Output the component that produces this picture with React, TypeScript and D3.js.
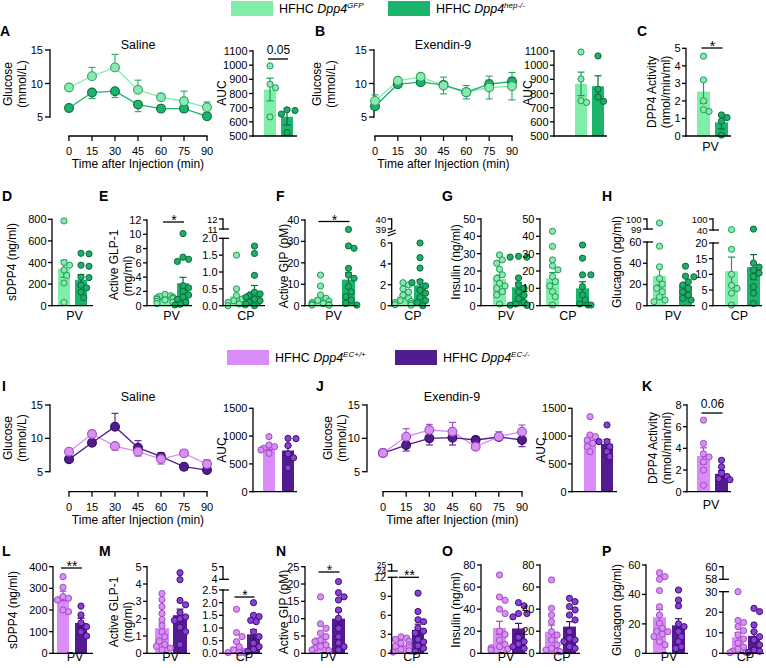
import React from "react";
import * as d3 from "d3";

const FONT = "'Liberation Sans', Arial, Helvetica, sans-serif";

// ================= DATA =================
const minutes = [0, 15, 30, 45, 60, 75, 90];
const ticksGlucose = [5, 10, 15];

// A – Saline (Dpp4 GFP vs hep-/-)
const salGfpMean = [9.4, 11.1, 12.4, 9.05, 7.95, 7.35, 6.45];
const salGfpSem = [0.25, 1.3, 1.95, 1.45, 0.45, 1.5, 0.8];
const salHepMean = [6.35, 8.65, 8.85, 6.85, 6.25, 6.25, 5.1];
const salHepSem = [0.55, 0.9, 0.95, 1.05, 0.25, 0.2, 0.2];
const salAucGfp = [995, 865, 840, 635];
const salAucHep = [685, 680, 655, 525];
const salAucMean = [828, 636];
const salAucSem = [80, 58];

// B – Exendin-9
const exGfpMean = [7.4, 10.4, 11.0, 9.7, 8.7, 9.4, 9.6];
const exGfpSem = [0.9, 0.3, 0.35, 1.25, 1.0, 1.7, 2.05];
const exHepMean = [6.6, 9.9, 10.2, 9.8, 8.7, 9.9, 10.3];
const exHepSem = [0.3, 0.3, 0.3, 0.4, 0.5, 0.6, 0.6];
const exAucGfp = [1093, 903, 749, 737];
const exAucHep = [1065, 830, 775, 745];
const exAucMean = [868, 851];
const exAucSem = [83, 74];

// C – DPP4 activity
const actGfp = [4.55, 3.2, 2.0, 1.5, 1.4];
const actHep = [1.2, 1.05, 0.85, 0.05];
const actMean = [2.53, 0.78];
const actSem = [0.66, 0.38];

// D – sDPP4
const sdppGfp = [785, 400, 375, 330, 280, 210, 30];
const sdppHep = [485, 480, 375, 365, 265, 260, 190, 165, 125, 75];
const sdppMean = [342, 240];
const sdppSem = [78, 48];

// E – Active GLP-1
const glpPvGfp = [1.6, 1.4, 1.3, 1.2, 1.1, 1.0, 0.9, 0.8, 0.6, 0.5, 0.3];
const glpPvHep = [10.1, 6.8, 6.5, 6.2, 2.8, 2.5, 2.0, 1.5, 1.2, 0.9, 0.5, 0.2, 0.1];
const glpPvMean = [0.95, 3.15];
const glpPvSem = [0.12, 0.82];
const glpCpGfp = [1.5, 0.5, 0.3, 0.2, 0.15, 0.1, 0.05, 0.02, 0.0];
const glpCpHep = [1.77, 1.55, 0.9, 0.4, 0.35, 0.3, 0.25, 0.2, 0.15, 0.1, 0.05, 0.0];
const glpCpMean = [0.28, 0.43];
const glpCpSem = [0.2, 0.17];

// F – Active GIP
const gipPvGfp = [14.3, 9.2, 5.0, 3.5, 2.5, 2.0, 1.5, 1.0, 0.8, 0.5, 0.3, 0.2];
const gipPvHep = [35.6, 27.9, 26.8, 17.4, 14.3, 12.8, 8.9, 6.5, 4.2, 2.6, 1.1, 0.3];
const gipPvMean = [3.8, 12.2];
const gipPvSem = [1.2, 3.2];
const gipCpGfp = [2.2, 2.0, 1.6, 1.3, 1.0, 0.7, 0.5, 0.4, 0.3, 0.2, 0.1, 0.05];
const gipCpHep = [6.0, 4.6, 3.6, 2.3, 2.2, 1.9, 1.5, 1.2, 0.8, 0.5, 0.3, 0.0];
const gipCpMean = [0.9, 1.95];
const gipCpSem = [0.2, 0.5];

// G – Insulin
const insPvGfp = [29.3, 26.4, 24.5, 21, 17.8, 15.8, 12.9, 11.4, 10, 8.1, 6.2, 1];
const insPvHep = [28, 28, 28.5, 16, 12, 10, 8, 6, 4, 2, 1, 0.5, 0.3, 0.2];
const insPvMean = [15.4, 10.6];
const insPvSem = [2.3, 2.9];
const insCpGfp = [42.9, 34.2, 26.4, 23, 20.7, 16.8, 13.9, 11.4, 8.1, 5.2, 0.4];
const insCpHep = [35, 27.4, 17.8, 17.8, 11, 6.2, 3.3, 1, 0.4, 0.4];
const insCpMean = [15.8, 10.0];
const insCpSem = [3.3, 3.8];

// H – Glucagon
const gcgPvGfp = [99.6, 56, 36.6, 25.6, 20.3, 16.3, 13.1, 8.4, 5.3, 3.8];
const gcgPvHep = [37.2, 27.8, 27.2, 22.5, 19.4, 16.3, 13.1, 10, 6.9, 5.3];
const gcgPvMean = [28, 18.8];
const gcgPvSem = [8.7, 3.2];
const gcgCpGfp = [42, 18, 10, 6.5, 5.5, 4, 0.2];
const gcgCpHep = [45, 13.6, 12.3, 11.4, 10.4, 9.3, 6.1, 4, 0.7];
const gcgCpMean = [11, 12.3];
const gcgCpSem = [4.5, 4];

// I – Saline (Dpp4 EC+/+ vs EC-/-)
const salWtMean = [8.0, 10.65, 8.85, 8.0, 6.9, 7.75, 6.15];
const salWtSem = [0.15, 0.3, 0.6, 0.65, 0.75, 0.3, 0.6];
const salKoMean = [6.85, 9.35, 11.75, 8.6, 7.25, 5.75, 5.25];
const salKoSem = [0.2, 0.3, 2.0, 1.05, 0.6, 0.5, 0.2];
const salAucWt = [990, 840, 810, 780, 750, 690];
const salAucKo = [960, 955, 830, 680, 610, 430];
const salAucWtKoMean = [800, 740];
const salAucWtKoSem = [45, 85];

// J – Exendin-9
const exWtMean = [7.8, 10.25, 11.25, 11.0, 8.75, 10.25, 11.0];
const exWtSem = [0.2, 1.2, 0.85, 1.4, 0.4, 0.75, 1.0];
const exKoMean = [7.8, 9.0, 10.0, 10.1, 9.75, 10.2, 9.75];
const exKoSem = [0.2, 0.9, 1.0, 1.1, 0.5, 0.4, 1.0];
const exAucWt = [1350, 1020, 990, 930, 870, 810, 720];
const exAucKo = [1200, 900, 900, 810, 720, 630];
const exAucWtKoMean = [960, 860];
const exAucWtKoSem = [65, 80];

// K – DPP4 activity
const actWt = [6.6, 4.45, 3.5, 3.2, 2.75, 2.0, 0.6];
const actKo = [2.9, 2.3, 1.7, 1.4, 1.2, 1.1];
const actWtKoMean = [3.3, 1.65];
const actWtKoSem = [0.75, 0.3];

// L – sDPP4
const sdppWt = [354, 305, 262, 254, 246, 200, 192];
const sdppKo = [218, 177, 141, 123, 100, 80];
const sdppWtKoMean = [265, 140];
const sdppWtKoSem = [22, 22];

// M – Active GLP-1
const glpPvWt = [3.45, 3.1, 2.7, 2.3, 1.95, 1.6, 1.25, 0.95, 0.7, 0.5, 0.4, 0.3, 0.2];
const glpPvKo = [4.65, 4.25, 3.05, 2.8, 2.35, 2.1, 2.0, 1.9, 1.5, 1.25, 0.5];
const glpPvWtKoMean = [1.45, 2.2];
const glpPvWtKoSem = [0.3, 0.35];
const glpCpWt = [1.74, 0.82, 0.66, 0.46, 0.26, 0.13, 0.07, 0.03, 0.02, 0.01];
const glpCpKo = [2.0, 1.5, 1.45, 1.3, 1.25, 0.85, 0.66, 0.4, 0.26, 0.16, 0.07];
const glpCpWtKoMean = [0.27, 0.75];
const glpCpWtKoSem = [0.17, 0.18];

// N – Active GIP
const gipPvWt = [16.3, 8.5, 7.2, 5.8, 4.8, 3.8, 3.4, 2.4, 2.0, 1.5, 1.0, 0.8];
const gipPvKo = [20.7, 17.5, 16.3, 15.4, 12.5, 10.1, 7.2, 4.8, 3.0, 1.9, 1.0];
const gipPvWtKoMean = [4.6, 10.0];
const gipPvWtKoSem = [1.3, 2.0];
const gipCpWt = [2.6, 2.4, 2.2, 1.9, 1.6, 1.3, 1.1, 0.9, 0.6, 0.4, 0.2];
const gipCpKo = [9.5, 6.6, 5.3, 5.0, 4.0, 3.5, 3.2, 2.2, 1.8, 1.2, 0.8, 0.3];
const gipCpWtKoMean = [1.3, 3.7];
const gipCpWtKoSem = [0.2, 0.9];

// O – Insulin
const insPvWt = [71, 51, 48, 40, 36, 20, 17, 12, 8, 6, 5, 4, 3];
const insPvKo = [45.9, 43, 36, 36, 33, 14.5, 10.6, 8.5, 6, 4.5];
const insPvWtKoMean = [23, 22.5];
const insPvWtKoSem = [6, 4.6];
const insCpWt = [66.5, 40.8, 34.7, 28.7, 19.6, 16.6, 12.1, 7.6, 4.5, 3, 2, 1.5];
const insCpKo = [49.8, 46.8, 42.3, 39.3, 34.7, 30.2, 19.6, 13.6, 12, 10.6, 6, 4.5];
const insCpWtKoMean = [19.5, 24.2];
const insCpWtKoSem = [6, 4.5];

// P – Glucagon
const gcgPvWt = [54.8, 52.1, 50.3, 42.6, 31.7, 26, 20.4, 17, 15, 14.7, 13, 11.3, 7.9, 5.7];
const gcgPvKo = [43, 36.2, 32.2, 20, 18.1, 14.7, 11.3, 7.9, 4.5, 3.4];
const gcgPvWtKoMean = [24.5, 19];
const gcgPvWtKoSem = [5.2, 4.5];
const gcgCpWt = [30, 16, 15, 13, 11, 9, 7, 5, 3, 2, 1, 0.5, 0.3];
const gcgCpKo = [21.9, 20.3, 13.8, 10.5, 8.1, 6.5, 4.1, 1.6, 1, 0.5];
const gcgCpWtKoMean = [7.8, 8.5];
const gcgCpWtKoSem = [2.2, 2.1];

// tick label lists
const ticksAuc1100 = [500, 600, 700, 800, 900, 1000, 1100];
const ticksAct5 = [0, 1, 2, 3, 4, 5];
const ticksSdpp800 = [0, 200, 400, 600, 800];
const ticksGlp12 = [0, 2, 4, 6, 8, 10, 12];
const ticksGlpCpLo = [0, 0.5, 1, 1.5, 2];
const ticksGlpCpHi = [11, 12];
const ticksGip40 = [0, 10, 20, 30, 40];
const ticksGipCpLo = [0, 2, 4, 6];
const ticksGipCpHi = [39, 40];
const ticksIns50 = [0, 10, 20, 30, 40, 50];
const ticksGcgPvLo = [0, 20, 40, 60];
const ticksGcgPvHi = [99, 100];
const ticksGcgCpLo = [0, 5, 10, 15, 20];
const ticksGcgCpHi = [40, 100];
const ticksAuc1500 = [0, 500, 1000, 1500];
const ticksAct8 = [0, 2, 4, 6, 8];
const ticksSdpp400 = [0, 100, 200, 300, 400];
const ticksGlp5 = [0, 1, 2, 3, 4, 5];
const ticksGlpCpLo2 = [0, 0.5, 1, 1.5, 2, 2.5];
const ticksGlpCpHi2 = [4, 5];
const ticksGip25 = [0, 5, 10, 15, 20, 25];
const ticksGipCpLo2 = [0, 3, 6, 9, 12];
const ticksGipCpHi2 = [24, 25];
const ticksIns80 = [0, 20, 40, 60, 80];
const ticksGcg60 = [0, 20, 40, 60];
const ticksGcgCpLo2 = [0, 10, 20, 30];
const ticksGcgCpHi2 = [58, 60];

// ================= STYLE =================
type Theme = {
  bar: [string, string];
  dotFill: [string, string];
  dotStroke: [string, string];
  err: [string, string];
  line: [string, string];
  mFill: [string, string];
  mStroke: [string, string];
};
const GREEN: Theme = {
  bar: ["#80EEA9", "#1BB46C"],
  dotFill: ["#8CE9AE", "#1DAE68"],
  dotStroke: ["#1E9A5C", "#0B6A3A"],
  err: ["#1E9A5C", "#0B6A3A"],
  line: ["#80EEA9", "#1BB46C"],
  mFill: ["#8CE9AE", "#1BB46C"],
  mStroke: ["#2AA566", "#0B6A3A"],
};
const PURPLE: Theme = {
  bar: ["#D98CF7", "#521B8F"],
  dotFill: ["#DA8FF2", "#8A3FD8"],
  dotStroke: ["#9E4CC6", "#3C106C"],
  err: ["#9E4CC6", "#3C106C"],
  line: ["#D98CF7", "#521B8F"],
  mFill: ["#DA8FF2", "#521B8F"],
  mStroke: ["#9E4CC6", "#2E0A58"],
};
const AX = 1.3;
const FS = 11;
const FS_BREAK = 9.5;
const f1 = d3.format(".1f");

// ================= HELPERS =================
type Seg = { dom: [number, number]; rng: [number, number]; ticks: number[]; fmt?: (v: number) => string; fs?: number };

function YAxis({ x, seg, capTop, capBottom, tick = 4, gap = 1.5 }: { x: number; seg: Seg; capTop?: boolean; capBottom?: boolean; tick?: number; gap?: number }) {
  const s = d3.scaleLinear().domain(seg.dom).range(seg.rng);
  const fmt = seg.fmt ?? ((v: number) => String(v));
  return (
    <g>
      <line x1={x} x2={x} y1={s(seg.dom[0]) + AX / 2} y2={s(seg.dom[1]) - AX / 2} stroke="#000" strokeWidth={AX} />
      {seg.ticks.map((t) => (
        <g key={t}>
          <line x1={x - tick} x2={x} y1={s(t)} y2={s(t)} stroke="#000" strokeWidth={AX} />
          <text x={x - tick - gap} y={s(t)} textAnchor="end" dominantBaseline="central" fontSize={seg.fs ?? FS} fontFamily={FONT}>
            {fmt(t)}
          </text>
        </g>
      ))}
      {capTop && <line x1={x} x2={x + 6} y1={s(seg.dom[1])} y2={s(seg.dom[1])} stroke="#000" strokeWidth={AX} />}
      {capBottom && <line x1={x} x2={x + 6} y1={s(seg.dom[0])} y2={s(seg.dom[0])} stroke="#000" strokeWidth={AX} />}
    </g>
  );
}

function swarm(values: number[], yOf: (v: number) => number, cx: number, r: number, maxOff: number) {
  const items = values.map((v) => ({ v, y: yOf(v) })).sort((a, b) => a.y - b.y);
  const placed: { x: number; y: number }[] = [];
  const minD = 2 * r * 0.92;
  for (const it of items) {
    let chosen: number | null = null;
    const cands = [0];
    for (let k = 1; k <= 14; k++) cands.push(k * r * 0.9, -k * r * 0.9);
    for (const c of cands) {
      if (Math.abs(c) > maxOff) continue;
      const x = cx + c;
      if (placed.every((p) => (p.x - x) ** 2 + (p.y - it.y) ** 2 >= minD * minD)) {
        chosen = x;
        break;
      }
    }
    if (chosen === null) chosen = cx + (placed.length % 2 ? maxOff : -maxOff);
    placed.push({ x: chosen, y: it.y });
  }
  return placed;
}

type BarProps = {
  theme: Theme;
  ax: number;
  b0: number;
  b1: number;
  bw: number;
  end: number;
  lower: Seg;
  upper?: Seg;
  slash?: boolean;
  groups: number[][];
  means: number[];
  sems: number[];
  xLabel?: string;
  xLabelY?: number;
  ann?: { text: string; y: number };
};

function BarPanel(p: BarProps) {
  const lo = d3.scaleLinear().domain(p.lower.dom).range(p.lower.rng);
  const up = p.upper ? d3.scaleLinear().domain(p.upper.dom).range(p.upper.rng) : null;
  const yOf = (v: number) => (up && p.upper && v >= p.upper.dom[0] ? up(v) : lo(Math.min(v, p.lower.dom[1])));
  const base = lo(p.lower.dom[0]);
  const x = d3.scaleOrdinal<number, number>().domain([0, 1]).range([p.b0, p.b1]);
  const centers = [0, 1].map((i) => x(i) + p.bw / 2);
  const r = 3.1;
  const t = p.theme;
  return (
    <g>
      {[0, 1].map((i) => (
        <rect key={"b" + i} x={x(i)} width={p.bw} y={lo(p.means[i])} height={base - lo(p.means[i])} fill={t.bar[i]} />
      ))}
      {[0, 1].map((i) => {
        const yt = lo(p.means[i] + p.sems[i]);
        const yb = lo(Math.max(p.lower.dom[0], p.means[i] - p.sems[i]));
        const c = centers[i];
        return (
          <g key={"e" + i} stroke={t.err[i]} strokeWidth={1.2}>
            <line x1={c} x2={c} y1={yt} y2={yb} />
            <line x1={c - 3.5} x2={c + 3.5} y1={yt} y2={yt} />
            <line x1={c - 3.5} x2={c + 3.5} y1={yb} y2={yb} />
          </g>
        );
      })}
      {[0, 1].map((i) =>
        swarm(p.groups[i], yOf, centers[i], r, p.bw / 2 + 2).map((d, k) => (
          <circle key={"d" + i + "-" + k} cx={d.x} cy={d.y} r={r} fill={t.dotFill[i]} stroke={t.dotStroke[i]} strokeWidth={1} />
        ))
      )}
      <YAxis x={p.ax} seg={p.lower} capTop={!!p.upper && !p.slash} />
      {p.upper && <YAxis x={p.ax} seg={{ fs: FS_BREAK, ...p.upper }} capBottom={!p.slash} />}
      {p.slash && p.upper && up && (
        <g stroke="#000" strokeWidth={1.2}>
          <line x1={p.ax - 4} x2={p.ax + 4} y1={up(p.upper.dom[0]) + 4} y2={up(p.upper.dom[0]) + 1} />
          <line x1={p.ax - 4} x2={p.ax + 4} y1={up(p.upper.dom[0]) + 7} y2={up(p.upper.dom[0]) + 4} />
        </g>
      )}
      <line x1={p.ax - AX / 2} x2={p.end} y1={base} y2={base} stroke="#000" strokeWidth={AX} />
      {p.xLabel && (
        <text x={(p.ax + p.end) / 2 + 2} y={p.xLabelY} textAnchor="middle" fontSize={12.5} fontFamily={FONT}>
          {p.xLabel}
        </text>
      )}
      {p.ann && (
        <g>
          <line x1={centers[0] - 2} x2={centers[1] + 1} y1={p.ann.y} y2={p.ann.y} stroke="#000" strokeWidth={1.3} />
          <text
            x={(centers[0] + centers[1]) / 2}
            y={p.ann.text.startsWith("*") ? p.ann.y + 3 : p.ann.y - 5}
            textAnchor="middle"
            fontSize={p.ann.text.startsWith("*") ? 14 : 12}
            fontFamily={FONT}
          >
            {p.ann.text}
          </text>
        </g>
      )}
    </g>
  );
}

type LineProps = {
  theme: Theme;
  yAx: number;
  yRng: [number, number];
  xRng: [number, number];
  xAxY: number;
  title: string;
  titleX: number;
  titleY: number;
  means: number[][];
  sems: number[][];
  errMode: "auto" | "both";
};

function LinePanel(p: LineProps) {
  const x = d3.scaleLinear().domain([0, 90]).range(p.xRng);
  const y = d3.scaleLinear().domain([5, 15]).range(p.yRng);
  const t = p.theme;
  const line = d3
    .line<number>()
    .x((_, i) => x(minutes[i]))
    .y((v) => y(v));
  const errCol = [t.mStroke[0], t.line[1]];
  return (
    <g>
      <text x={p.titleX} y={p.titleY} textAnchor="middle" fontSize={12.5} fontFamily={FONT}>
        {p.title}
      </text>
      <YAxis x={p.yAx} seg={{ dom: [5, 15], rng: p.yRng, ticks: ticksGlucose }} tick={5} gap={2} />
      <line x1={p.xRng[0] - AX / 2} x2={p.xRng[1] + AX / 2} y1={p.xAxY} y2={p.xAxY} stroke="#000" strokeWidth={AX} />
      {minutes.map((m) => (
        <g key={m}>
          <line x1={x(m)} x2={x(m)} y1={p.xAxY} y2={p.xAxY + 5} stroke="#000" strokeWidth={AX} />
          <text x={x(m)} y={p.xAxY + 19} textAnchor="middle" fontSize={FS} fontFamily={FONT}>
            {m}
          </text>
        </g>
      ))}
      <text x={(p.xRng[0] + p.xRng[1]) / 2} y={p.xAxY + 32} textAnchor="middle" fontSize={12} fontFamily={FONT}>
        Time after Injection (min)
      </text>
      {[0, 1].map((s) => (
        <g key={"err" + s} stroke={errCol[s]} strokeWidth={1.1}>
          {p.means[s].map((m, i) => {
            const other = p.means[1 - s][i];
            const upDir = p.errMode === "both" || m >= other;
            const dnDir = p.errMode === "both" || m < other;
            const yT = y(m + p.sems[s][i]);
            const yB = y(m - p.sems[s][i]);
            const cx = x(minutes[i]);
            return (
              <g key={i}>
                {upDir && <line x1={cx} x2={cx} y1={y(m)} y2={yT} />}
                {upDir && <line x1={cx - 3.5} x2={cx + 3.5} y1={yT} y2={yT} />}
                {dnDir && <line x1={cx} x2={cx} y1={y(m)} y2={yB} />}
                {dnDir && <line x1={cx - 3.5} x2={cx + 3.5} y1={yB} y2={yB} />}
              </g>
            );
          })}
        </g>
      ))}
      {[0, 1].map((s) => (
        <path key={"l" + s} d={line(p.means[s]) || ""} fill="none" stroke={t.line[s]} strokeWidth={1.3} />
      ))}
      {[1, 0].map((s) => (
        <g key={"m" + s}>
          {p.means[s].map((m, i) => (
            <circle key={i} cx={x(minutes[i])} cy={y(m)} r={4.4} fill={t.mFill[s]} stroke={t.mStroke[s]} strokeWidth={1.1} />
          ))}
        </g>
      ))}
    </g>
  );
}

function YLabel({ x, y, text }: { x: number; y: number; text: string }) {
  return (
    <text
      transform={`translate(${x},${y}) rotate(-90)`}
      textAnchor="middle"
      dominantBaseline="central"
      fontSize={12}
      fontFamily={FONT}
    >
      {text}
    </text>
  );
}

function Letter({ x, y, t }: { x: number; y: number; t: string }) {
  return (
    <text x={x} y={y} fontSize={14} fontWeight={900} fontFamily={FONT}>
      {t}
    </text>
  );
}

function Legend({ x, y, fill, sup }: { x: number; y: number; fill: string; sup: string }) {
  return (
    <g>
      <rect x={x} y={y} width={42} height={15} fill={fill} />
      <text x={x + 48} y={y + 12} fontSize={12.5} fontFamily={FONT}>
        HFHC <tspan fontStyle="italic">Dpp4</tspan>
        <tspan fontStyle="italic" fontSize={8} dy={-5}>
          {sup}
        </tspan>
      </text>
    </g>
  );
}

// ================= APP =================
export default function App() {
  const G = GREEN;
  const P = PURPLE;
  const r1: [number, number] = [117, 50];
  const r3: [number, number] = [471.7, 405];
  return (
    <svg width={766} height={668} style={{ position: "absolute", left: 0, top: 0, background: "#fff" }} fontFamily={FONT}>
      <rect x={0} y={0} width={766} height={668} fill="#fff" />
      {/* legends */}
      <Legend x={231} y={1} fill={G.bar[0]} sup="GFP" />
      <Legend x={388} y={1} fill={G.bar[1]} sup="hep-/-" />
      <Legend x={227} y={350} fill={P.bar[0]} sup="EC+/+" />
      <Legend x={395} y={350} fill={P.bar[1]} sup="EC-/-" />

      {/* letters */}
      <Letter x={0} y={36} t="A" />
      <Letter x={315} y={36} t="B" />
      <Letter x={637} y={36} t="C" />
      <Letter x={2} y={201} t="D" />
      <Letter x={99} y={201} t="E" />
      <Letter x={276} y={201} t="F" />
      <Letter x={442} y={201} t="G" />
      <Letter x={602} y={201} t="H" />
      <Letter x={2} y={391} t="I" />
      <Letter x={316} y={391} t="J" />
      <Letter x={642} y={391} t="K" />
      <Letter x={2} y={556} t="L" />
      <Letter x={99} y={556} t="M" />
      <Letter x={276} y={556} t="N" />
      <Letter x={442} y={556} t="O" />
      <Letter x={602} y={556} t="P" />

      {/* Row 1 */}
      <YLabel x={8} y={84} text="Glucose" />
      <YLabel x={22} y={84} text="(mmol/L)" />
      <LinePanel theme={G} yAx={50} yRng={r1} xRng={[69, 207]} xAxY={136} title="Saline" titleX={138} titleY={49}
        means={[salGfpMean, salHepMean]} sems={[salGfpSem, salHepSem]} errMode="auto" />
      <YLabel x={222} y={93} text="AUC" />
      <BarPanel theme={G} ax={253} b0={264} b1={281} bw={12} end={297}
        lower={{ dom: [500, 1100], rng: [136, 51], ticks: ticksAuc1100 }}
        groups={[salAucGfp, salAucHep]} means={salAucMean} sems={salAucSem} ann={{ text: "0.05", y: 59 }} />

      <YLabel x={317} y={84} text="Glucose" />
      <YLabel x={331} y={84} text="(mmol/L)" />
      <LinePanel theme={G} yAx={374} yRng={r1} xRng={[375, 512]} xAxY={136} title="Exendin-9" titleX={443} titleY={49}
        means={[exGfpMean, exHepMean]} sems={[exGfpSem, exHepSem]} errMode="both" />
      <YLabel x={528} y={93} text="AUC" />
      <BarPanel theme={G} ax={554} b0={575} b1={592} bw={12} end={607}
        lower={{ dom: [500, 1100], rng: [136, 51], ticks: ticksAuc1100 }}
        groups={[exAucGfp, exAucHep]} means={exAucMean} sems={exAucSem} />

      <YLabel x={652} y={92} text="DPP4 Activity" />
      <YLabel x={666} y={92} text="(nmol/min/ml)" />
      <BarPanel theme={G} ax={686} b0={697} b1={715} bw={13} end={731}
        lower={{ dom: [0, 5], rng: [136, 48.3], ticks: ticksAct5 }}
        groups={[actGfp, actHep]} means={actMean} sems={actSem} xLabel="PV" xLabelY={151} ann={{ text: "*", y: 48 }} />

      {/* Row 2 */}
      <YLabel x={12} y={262} text="sDPP4 (ng/ml)" />
      <BarPanel theme={G} ax={52} b0={58} b1={75} bw={12} end={93}
        lower={{ dom: [0, 800], rng: [305.7, 219.3], ticks: ticksSdpp800 }}
        groups={[sdppGfp, sdppHep]} means={sdppMean} sems={sdppSem} xLabel="PV" xLabelY={320} />

      <YLabel x={114} y={265} text="Active GLP-1" />
      <YLabel x={128} y={276} text="(mg/ml)" />
      <BarPanel theme={G} ax={147} b0={159} b1={177} bw={12} end={192}
        lower={{ dom: [0, 12], rng: [305.7, 220], ticks: ticksGlp12 }}
        groups={[glpPvGfp, glpPvHep]} means={glpPvMean} sems={glpPvSem} xLabel="PV" xLabelY={320} ann={{ text: "*", y: 222 }} />
      <BarPanel theme={G} ax={223} b0={230} b1={248} bw={13} end={265}
        lower={{ dom: [0, 2], rng: [305.7, 238.3], ticks: ticksGlpCpLo, fmt: f1 }}
        upper={{ dom: [11, 12], rng: [229, 219], ticks: ticksGlpCpHi }}
        groups={[glpCpGfp, glpCpHep]} means={glpCpMean} sems={glpCpSem} xLabel="CP" xLabelY={320} />

      <YLabel x={284} y={266} text="Active GIP (pM)" />
      <BarPanel theme={G} ax={305} b0={314} b1={342} bw={13} end={358}
        lower={{ dom: [0, 40], rng: [305.7, 220], ticks: ticksGip40 }}
        groups={[gipPvGfp, gipPvHep]} means={gipPvMean} sems={gipPvSem} xLabel="PV" xLabelY={320} ann={{ text: "*", y: 221.5 }} />
      <BarPanel theme={G} ax={391.7} b0={397} b1={414} bw={12} end={430} slash
        lower={{ dom: [0, 6], rng: [305.7, 243], ticks: ticksGipCpLo }}
        upper={{ dom: [39, 40], rng: [229, 219], ticks: ticksGipCpHi }}
        groups={[gipCpGfp, gipCpHep]} means={gipCpMean} sems={gipCpSem} xLabel="CP" xLabelY={320} />

      <YLabel x={456} y={262} text="Insulin (ng/ml)" />
      <BarPanel theme={G} ax={481} b0={493} b1={512} bw={13} end={527}
        lower={{ dom: [0, 50], rng: [305.7, 219], ticks: ticksIns50 }}
        groups={[insPvGfp, insPvHep]} means={insPvMean} sems={insPvSem} xLabel="PV" xLabelY={320} />
      <BarPanel theme={G} ax={540} b0={546} b1={576} bw={13} end={592}
        lower={{ dom: [0, 50], rng: [305.7, 219], ticks: ticksIns50 }}
        groups={[insCpGfp, insCpHep]} means={insCpMean} sems={insCpSem} xLabel="CP" xLabelY={320} />

      <YLabel x={617} y={262} text="Glucagon (pg/ml)" />
      <BarPanel theme={G} ax={647} b0={653} b1={679} bw={13} end={695}
        lower={{ dom: [0, 60], rng: [305.7, 242], ticks: ticksGcgPvLo }}
        upper={{ dom: [99, 100], rng: [229, 219], ticks: ticksGcgPvHi }}
        groups={[gcgPvGfp, gcgPvHep]} means={gcgPvMean} sems={gcgPvSem} xLabel="PV" xLabelY={320} />
      <BarPanel theme={G} ax={713} b0={725} b1={747} bw={13} end={762}
        lower={{ dom: [0, 20], rng: [305.7, 243], ticks: ticksGcgCpLo }}
        upper={{ dom: [40, 100], rng: [230, 219], ticks: ticksGcgCpHi }}
        groups={[gcgCpGfp, gcgCpHep]} means={gcgCpMean} sems={gcgCpSem} xLabel="CP" xLabelY={320} />

      {/* Row 3 */}
      <YLabel x={8} y={438} text="Glucose" />
      <YLabel x={22} y={438} text="(mmol/L)" />
      <LinePanel theme={P} yAx={50} yRng={r3} xRng={[69, 207]} xAxY={491.7} title="Saline" titleX={138} titleY={401}
        means={[salWtMean, salKoMean]} sems={[salWtSem, salKoSem]} errMode="auto" />
      <YLabel x={222} y={450} text="AUC" />
      <BarPanel theme={P} ax={253} b0={263} b1={282} bw={12} end={297}
        lower={{ dom: [0, 1500], rng: [491.7, 408.3], ticks: ticksAuc1500 }}
        groups={[salAucWt, salAucKo]} means={salAucWtKoMean} sems={salAucWtKoSem} />

      <YLabel x={328} y={438} text="Glucose" />
      <YLabel x={342} y={438} text="(mmol/L)" />
      <LinePanel theme={P} yAx={367} yRng={r3} xRng={[383, 522]} xAxY={491.7} title="Exendin-9" titleX={452} titleY={401}
        means={[exWtMean, exKoMean]} sems={[exWtSem, exKoSem]} errMode="auto" />
      <YLabel x={541} y={450} text="AUC" />
      <BarPanel theme={P} ax={572} b0={584} b1={601} bw={12} end={617}
        lower={{ dom: [0, 1500], rng: [491.7, 408.3], ticks: ticksAuc1500 }}
        groups={[exAucWt, exAucKo]} means={exAucWtKoMean} sems={exAucWtKoSem} />

      <YLabel x={653} y={448} text="DPP4 Activity" />
      <YLabel x={667} y={448} text="(nmol/min/ml)" />
      <BarPanel theme={P} ax={687} b0={697} b1={715} bw={13} end={731}
        lower={{ dom: [0, 8], rng: [491.7, 405], ticks: ticksAct8 }}
        groups={[actWt, actKo]} means={actWtKoMean} sems={actWtKoSem} xLabel="PV" xLabelY={509} ann={{ text: "0.06", y: 413 }} />

      {/* Row 4 */}
      <YLabel x={13} y={610} text="sDPP4 (ng/ml)" />
      <BarPanel theme={P} ax={53} b0={57} b1={75} bw={12} end={93}
        lower={{ dom: [0, 400], rng: [653.3, 566.7], ticks: ticksSdpp400 }}
        groups={[sdppWt, sdppKo]} means={sdppWtKoMean} sems={sdppWtKoSem} xLabel="PV" xLabelY={661} ann={{ text: "**", y: 568 }} />

      <YLabel x={114} y={612} text="Active GLP-1" />
      <YLabel x={128} y={622} text="(mg/ml)" />
      <BarPanel theme={P} ax={147} b0={155} b1={173} bw={14} end={190}
        lower={{ dom: [0, 5], rng: [653.3, 566.7], ticks: ticksGlp5 }}
        groups={[glpPvWt, glpPvKo]} means={glpPvWtKoMean} sems={glpPvWtKoSem} xLabel="PV" xLabelY={661} />
      <BarPanel theme={P} ax={223} b0={230} b1={247} bw={13} end={262}
        lower={{ dom: [0, 2.5], rng: [653.3, 590], ticks: ticksGlpCpLo2, fmt: f1 }}
        upper={{ dom: [4, 5], rng: [579.3, 566.7], ticks: ticksGlpCpHi2, fs: 11 }}
        groups={[glpCpWt, glpCpKo]} means={glpCpWtKoMean} sems={glpCpWtKoSem} xLabel="CP" xLabelY={661} ann={{ text: "*", y: 597 }} />

      <YLabel x={284} y={612} text="Active GIP (pM)" />
      <BarPanel theme={P} ax={305} b0={314} b1={332} bw={13} end={348}
        lower={{ dom: [0, 25], rng: [653.3, 566.7], ticks: ticksGip25 }}
        groups={[gipPvWt, gipPvKo]} means={gipPvWtKoMean} sems={gipPvWtKoSem} xLabel="PV" xLabelY={661} ann={{ text: "*", y: 572 }} />
      <BarPanel theme={P} ax={391.7} b0={395} b1={412} bw={12} end={428}
        lower={{ dom: [0, 12], rng: [653.3, 577.3], ticks: ticksGipCpLo2 }}
        upper={{ dom: [24, 25], rng: [571, 564.5], ticks: ticksGipCpHi2, fs: 8.5 }}
        groups={[gipCpWt, gipCpKo]} means={gipCpWtKoMean} sems={gipCpWtKoSem} xLabel="CP" xLabelY={661} ann={{ text: "**", y: 577.3 }} />

      <YLabel x={456} y={610} text="Insulin (ng/ml)" />
      <BarPanel theme={P} ax={481} b0={493} b1={512} bw={13} end={527}
        lower={{ dom: [0, 80], rng: [653.3, 565], ticks: ticksIns80 }}
        groups={[insPvWt, insPvKo]} means={insPvWtKoMean} sems={insPvWtKoSem} xLabel="PV" xLabelY={661} />
      <BarPanel theme={P} ax={540} b0={545} b1={563} bw={13} end={580}
        lower={{ dom: [0, 80], rng: [653.3, 565], ticks: ticksIns80 }}
        groups={[insCpWt, insCpKo]} means={insCpWtKoMean} sems={insCpWtKoSem} xLabel="CP" xLabelY={661} />

      <YLabel x={617} y={610} text="Glucagon (pg/ml)" />
      <BarPanel theme={P} ax={646} b0={653} b1={672} bw={13} end={688}
        lower={{ dom: [0, 60], rng: [653.3, 565], ticks: ticksGcg60 }}
        groups={[gcgPvWt, gcgPvKo]} means={gcgPvWtKoMean} sems={gcgPvWtKoSem} xLabel="PV" xLabelY={661} />
      <BarPanel theme={P} ax={723} b0={732} b1={748} bw={12} end={764}
        lower={{ dom: [0, 30], rng: [653.3, 591.7], ticks: ticksGcgCpLo2 }}
        upper={{ dom: [58, 60], rng: [579.3, 566.7], ticks: ticksGcgCpHi2, fs: 11 }}
        groups={[gcgCpWt, gcgCpKo]} means={gcgCpWtKoMean} sems={gcgCpWtKoSem} xLabel="CP" xLabelY={661} />
    </svg>
  );
}
